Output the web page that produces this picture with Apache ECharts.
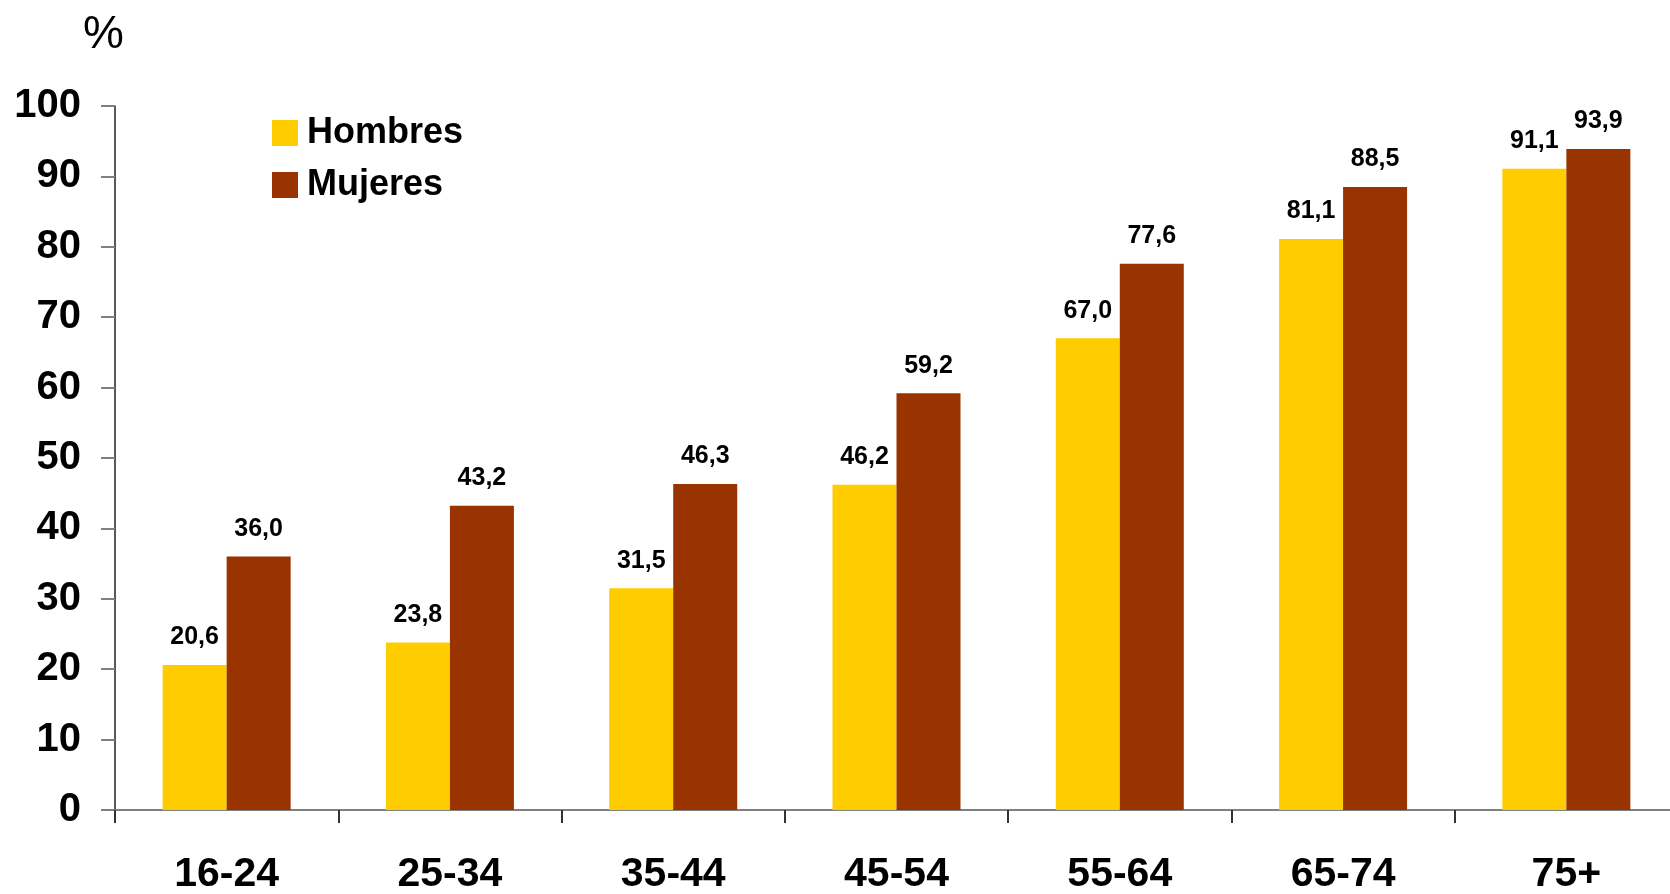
<!DOCTYPE html>
<html>
<head>
<meta charset="utf-8">
<script src="https://cdn.jsdelivr.net/npm/echarts@6/dist/echarts.min.js"></script>
<style>
html,body{margin:0;padding:0;background:#fff;}
#chart{width:1670px;height:894px;}
</style>
</head>
<body>
<div id="chart"></div>
<script>
const categories = ['16-24', '25-34', '35-44', '45-54', '55-64', '65-74', '75+'];
const hombres = [20.6, 23.8, 31.5, 46.2, 67.0, 81.1, 91.1];
const mujeres = [36.0, 43.2, 46.3, 59.2, 77.6, 88.5, 93.9];
const yTicks = { min: 0, max: 100, interval: 10 };
const unitLabel = '%';
const seriesNames = ['Hombres', 'Mujeres'];

const FONT = '"Liberation Sans", Arial, sans-serif';
const fmt = p => p.value.toFixed(1).replace('.', ',');
const labelStyle = {
  show: true, position: 'top', distance: 15, formatter: fmt,
  fontFamily: FONT, fontWeight: 'bold', fontSize: 25, color: '#000'
};

const chart = echarts.init(document.getElementById('chart'), null, { renderer: 'canvas' });
chart.setOption({
  animation: false,
  backgroundColor: '#fff',
  graphic: [{
    type: 'text', left: 83, top: 12,
    style: { text: unitLabel, font: 'normal 46px "Liberation Sans", Arial, sans-serif', fill: '#000' }
  }],
  legend: {
    orient: 'vertical', left: 267, top: 110,
    itemWidth: 26, itemHeight: 26, itemGap: 16,
    icon: 'rect',
    data: seriesNames,
    textStyle: { fontFamily: FONT, fontWeight: 'bold', fontSize: 36, color: '#000', padding: [0, 0, 0, 4] }
  },
  grid: { left: 115, top: 106, bottom: 84, width: 1563, containLabel: false, outerBoundsMode: 'none' },
  xAxis: {
    type: 'category', data: categories,
    axisLine: { show: true, lineStyle: { color: '#808080', width: 2 } },
    axisTick: { show: true, length: 13, alignWithLabel: false, lineStyle: { color: '#333', width: 2 } },
    axisLabel: { fontFamily: FONT, fontWeight: 'bold', fontSize: 41, color: '#000', margin: 44 },
    splitLine: { show: false }
  },
  yAxis: {
    type: 'value', min: yTicks.min, max: yTicks.max, interval: yTicks.interval,
    axisLine: { show: true, lineStyle: { color: '#222', width: 1.5 } },
    axisTick: { show: true, length: 14, lineStyle: { color: '#808080', width: 2 } },
    axisLabel: { fontFamily: FONT, fontWeight: 'bold', fontSize: 40, color: '#000', margin: 34 },
    splitLine: { show: false }
  },
  series: [
    { name: seriesNames[0], type: 'bar', data: hombres, barWidth: 64, barGap: '0%',
      itemStyle: { color: '#FFCC00' }, label: labelStyle },
    { name: seriesNames[1], type: 'bar', data: mujeres, barWidth: 64, barGap: '0%',
      itemStyle: { color: '#993300' }, label: labelStyle }
  ]
});
</script>
</body>
</html>
